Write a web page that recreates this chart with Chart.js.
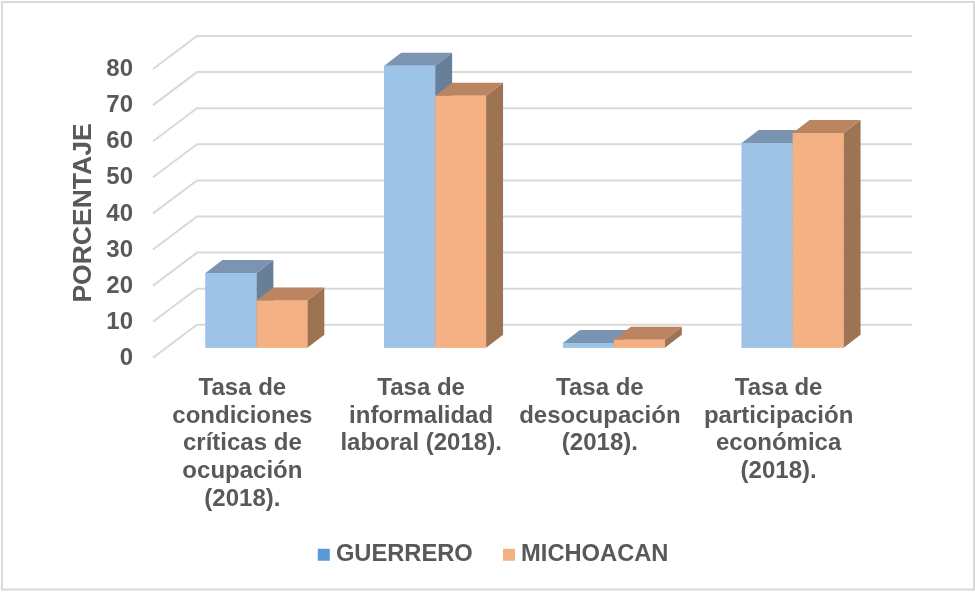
<!DOCTYPE html>
<html>
<head>
<meta charset="utf-8">
<style>
  html, body { margin: 0; padding: 0; background: #fff; }
  #wrap { width: 975px; height: 592px; }
</style>
</head>
<body>
<div id="wrap"><canvas id="grafica" width="975" height="592"></canvas></div>
<script src="https://cdn.jsdelivr.net/npm/chart.js@4/dist/chart.umd.min.js"></script>
<script>
// Datos
const categorias = [
    ["Tasa de", "condiciones", "críticas de", "ocupación", "(2018)."],
    ["Tasa de", "informalidad", "laboral (2018)."],
    ["Tasa de", "desocupación", "(2018)."],
    ["Tasa de", "participación", "económica", "(2018)."],
];
const guerrero = [20.7, 78.1, 1.3, 56.7];
const michoacan = [13.1, 69.8, 2.2, 59.5];
const tituloY = "PORCENTAJE";

const GRIS_TEXTO = "#595959";
const GRIS_LINEA = "#D9D9D9";
const FUENTE = "'Liberation Sans', Arial, sans-serif";

// Caras de cada serie: frente, leyenda, arriba, lado
const caras = [
    { frente: "#9DC3E6", leyenda: "#5B9BD5", arriba: "#7A94B1", lado: "#677F99" },
    { frente: "#F4B183", leyenda: "#F4B183", arriba: "#BA8560", lado: "#9E7353" },
];

// Perspectiva: hacia el fondo y hacia el frente desde el plano de las barras
const fondo = { dx: 30, dy: -23 };
const frente = { dx: -14, dy: 10 };
const prof = { dx: 17, dy: -13 };

function poligono(ctx, puntos, color) {
    ctx.fillStyle = color;
    ctx.beginPath();
    puntos.forEach((p, i) => (i ? ctx.lineTo(p[0], p[1]) : ctx.moveTo(p[0], p[1])));
    ctx.closePath();
    ctx.fill();
}

const efecto3d = {
    id: "efecto3d",
    // la leyenda va centrada bajo las barras y sube sobre el eje x
    afterLayout(chart) {
        const ley = chart.legend;
        ley.left += 25;
        ley.right += 25;
        ley.top -= 13.5;
        ley.bottom -= 13.5;
    },
    // borde exterior y rejilla
    beforeDraw(chart) {
        const { ctx, scales } = chart;
        ctx.save();
        ctx.strokeStyle = GRIS_LINEA;
        ctx.lineWidth = 2;
        ctx.strokeRect(2, 2, 972, 587.5);
        scales.y.ticks.forEach((t) => {
            const y = scales.y.getPixelForValue(t.value);
            ctx.beginPath();
            ctx.moveTo(scales.x.left + frente.dx, y + frente.dy);
            ctx.lineTo(scales.x.left + fondo.dx, y + fondo.dy);
            ctx.lineTo(scales.x.right + fondo.dx, y + fondo.dy);
            ctx.stroke();
        });
        ctx.restore();
    },
    // se redibuja serie por serie: la primera queda detras de la segunda
    afterDatasetsDraw(chart) {
        const { ctx } = chart;
        ctx.save();
        caras.forEach((c, i) => {
            chart.getDatasetMeta(i).data.forEach((bar) => {
                const izq = bar.x - bar.width / 2;
                const der = bar.x + bar.width / 2;
                poligono(ctx, [[der, bar.y], [der + prof.dx, bar.y + prof.dy], [der + prof.dx, bar.base + prof.dy], [der, bar.base]], c.lado);
                poligono(ctx, [[izq, bar.y], [izq + prof.dx, bar.y + prof.dy], [der + prof.dx, bar.y + prof.dy], [der, bar.y]], c.arriba);
                bar.draw(ctx);
            });
        });
        ctx.restore();
    },
    // titulo del eje, va mas abajo que el centro de la escala
    afterDraw(chart) {
        const { ctx } = chart;
        ctx.save();
        ctx.translate(84, 213);
        ctx.rotate(-Math.PI / 2);
        ctx.font = "bold 26.5px " + FUENTE;
        ctx.fillStyle = GRIS_TEXTO;
        ctx.textAlign = "center";
        ctx.textBaseline = "middle";
        ctx.fillText(tituloY, 0, 0);
        ctx.restore();
    },
};

new Chart(document.getElementById("grafica"), {
    type: "bar",
    data: {
        labels: categorias,
        datasets: [
            { label: "GUERRERO", data: guerrero, backgroundColor: caras[0].frente },
            { label: "MICHOACAN", data: michoacan, backgroundColor: caras[1].frente },
        ],
    },
    plugins: [efecto3d],
    options: {
        responsive: false,
        animation: false,
        layout: { padding: { left: 60, right: 93, top: 59, bottom: 2 } },
        datasets: { bar: { categoryPercentage: 0.57, barPercentage: 1 } },
        scales: {
            x: {
                grid: { display: false, drawTicks: false },
                border: { display: false },
                afterFit: (s) => { s.height = 172.5; },
                ticks: {
                    autoSkip: false,
                    maxRotation: 0,
                    minRotation: 0,
                    padding: 27,
                    labelOffset: -14,
                    color: GRIS_TEXTO,
                    font: { family: FUENTE, size: 24, weight: "bold", lineHeight: 1.15 },
                },
            },
            y: {
                min: 0,
                max: 80,
                grid: { display: false, drawTicks: false },
                border: { display: false },
                afterFit: (s) => { s.width = 107; },
                ticks: {
                    stepSize: 10,
                    padding: 34,
                    labelOffset: 10.5,
                    color: GRIS_TEXTO,
                    font: { family: FUENTE, size: 24, weight: "bold" },
                },
            },
        },
        plugins: {
            tooltip: { enabled: false },
            legend: {
                position: "bottom",
                labels: {
                    usePointStyle: true,
                    pointStyle: "rect",
                    boxWidth: 0.5,
                    boxHeight: 12,
                    padding: 36,
                    color: GRIS_TEXTO,
                    font: { family: FUENTE, size: 23.7, weight: "bold" },
                    generateLabels: (chart) =>
                        chart.data.datasets.map((d, i) => ({
                            text: d.label,
                            fillStyle: caras[i].leyenda,
                            strokeStyle: caras[i].leyenda,
                            lineWidth: 0,
                            pointStyle: "rect",
                            fontColor: GRIS_TEXTO,
                            datasetIndex: i,
                        })),
                },
            },
        },
    },
});
</script>
</body>
</html>
